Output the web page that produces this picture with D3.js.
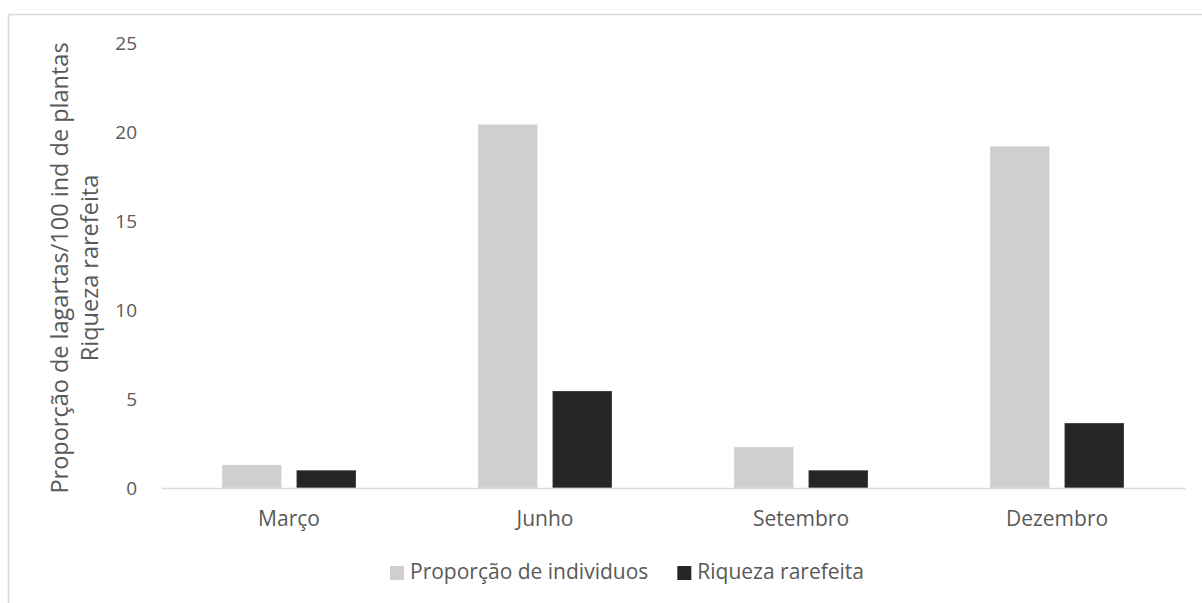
<!DOCTYPE html>
<html>
<head>
<meta charset="utf-8">
<script src="https://cdn.jsdelivr.net/npm/d3@7"></script>
<style>
  html, body { margin: 0; padding: 0; background: #fff; }
  svg { display: block; }
  text { font-family: "Open Sans", "DejaVu Sans", sans-serif; fill: #595959; }
</style>
</head>
<body>
<svg id="chart" width="1202" height="603"></svg>
<script>
// Months sampled
const categories = ["Março", "Junho", "Setembro", "Dezembro"];
// Proporção de lagartas por 100 indivíduos de plantas
const proporcao = [1.3, 20.43, 2.3, 19.2];
// Riqueza rarefeita
const riqueza = [1.0, 5.45, 1.0, 3.65];
const seriesNames = ["Proporção de individuos", "Riqueza rarefeita"];
const seriesColors = ["#D0CECE", "#262626"];
const yTicks = [0, 5, 10, 15, 20, 25];

const svg = d3.select("#chart");

// Outer chart frame
svg.append("rect")
  .attr("x", 8.5).attr("y", 14.5)
  .attr("width", 1210).attr("height", 600)
  .attr("fill", "none").attr("stroke", "#D9D9D9").attr("stroke-width", 1.5);

const plot = { left: 161, right: 1185, top: 43, bottom: 488 };

const x = d3.scaleBand().domain(categories).range([plot.left, plot.right]).paddingInner(0).paddingOuter(0);
const inner = d3.scaleBand().domain([0, 1]).range([61, x.bandwidth() - 61]).paddingInner(0.2);
const y = d3.scaleLinear().domain([0, 25]).range([plot.bottom, plot.top]);

// Y axis tick labels (no axis line)
const yAxis = d3.axisLeft(y).tickValues(yTicks).tickSize(0).tickPadding(0);
const gy = svg.append("g").attr("transform", `translate(${137},0)`).call(yAxis);
gy.select(".domain").remove();
gy.selectAll("text")
  .attr("font-size", 19).attr("fill", "#595959")
  .attr("font-family", "'Open Sans', sans-serif");

// Bars
const rows = categories.map((c, i) => ({ cat: c, vals: [proporcao[i], riqueza[i]] }));
const groups = svg.append("g").selectAll("g").data(rows).join("g")
  .attr("transform", d => `translate(${x(d.cat)},0)`);
groups.selectAll("rect").data(d => d.vals.map((v, k) => ({ v, k }))).join("rect")
  .attr("x", d => inner(d.k))
  .attr("width", inner.bandwidth())
  .attr("y", d => y(d.v))
  .attr("height", d => y(0) - y(d.v))
  .attr("fill", d => seriesColors[d.k])
  .attr("stroke", "#ffffff").attr("stroke-opacity", 0.35).attr("stroke-width", 0.75);

// Category axis with baseline
const xAxis = d3.axisBottom(x).tickSize(0).tickPadding(0);
const gx = svg.append("g").attr("transform", `translate(0,${plot.bottom})`).call(xAxis);
gx.select(".domain").attr("stroke", "#D9D9D9").attr("stroke-width", 1.5);
gx.selectAll("text")
  .attr("font-size", 21).attr("fill", "#595959")
  .attr("font-family", "'Open Sans', sans-serif")
  .attr("dy", null).attr("y", 32).attr("dominant-baseline", "middle");

// Y axis title (two lines, rotated)
const title = svg.append("text")
  .attr("transform", "translate(60,268) rotate(-90)")
  .attr("text-anchor", "middle").attr("font-size", 23.5);
title.append("tspan").attr("x", 0).attr("dy", "0.35em").text("Proporção de lagartas/100 ind de plantas");
title.append("tspan").attr("x", 0).attr("dy", "1.28em").text("Riqueza rarefeita");

// Legend
const legend = svg.append("g").attr("transform", "translate(390,573)");
let lx = 0;
seriesNames.forEach((name, k) => {
  const item = legend.append("g").attr("transform", `translate(${lx},0)`);
  item.append("rect").attr("x", 0).attr("y", -7).attr("width", 14).attr("height", 14).attr("fill", seriesColors[k]);
  const t = item.append("text").attr("x", 20).attr("y", 0).attr("dominant-baseline", "middle")
    .attr("font-size", 21).text(name);
  lx += 20 + t.node().getComputedTextLength() + 29;
});
</script>
</body>
</html>
